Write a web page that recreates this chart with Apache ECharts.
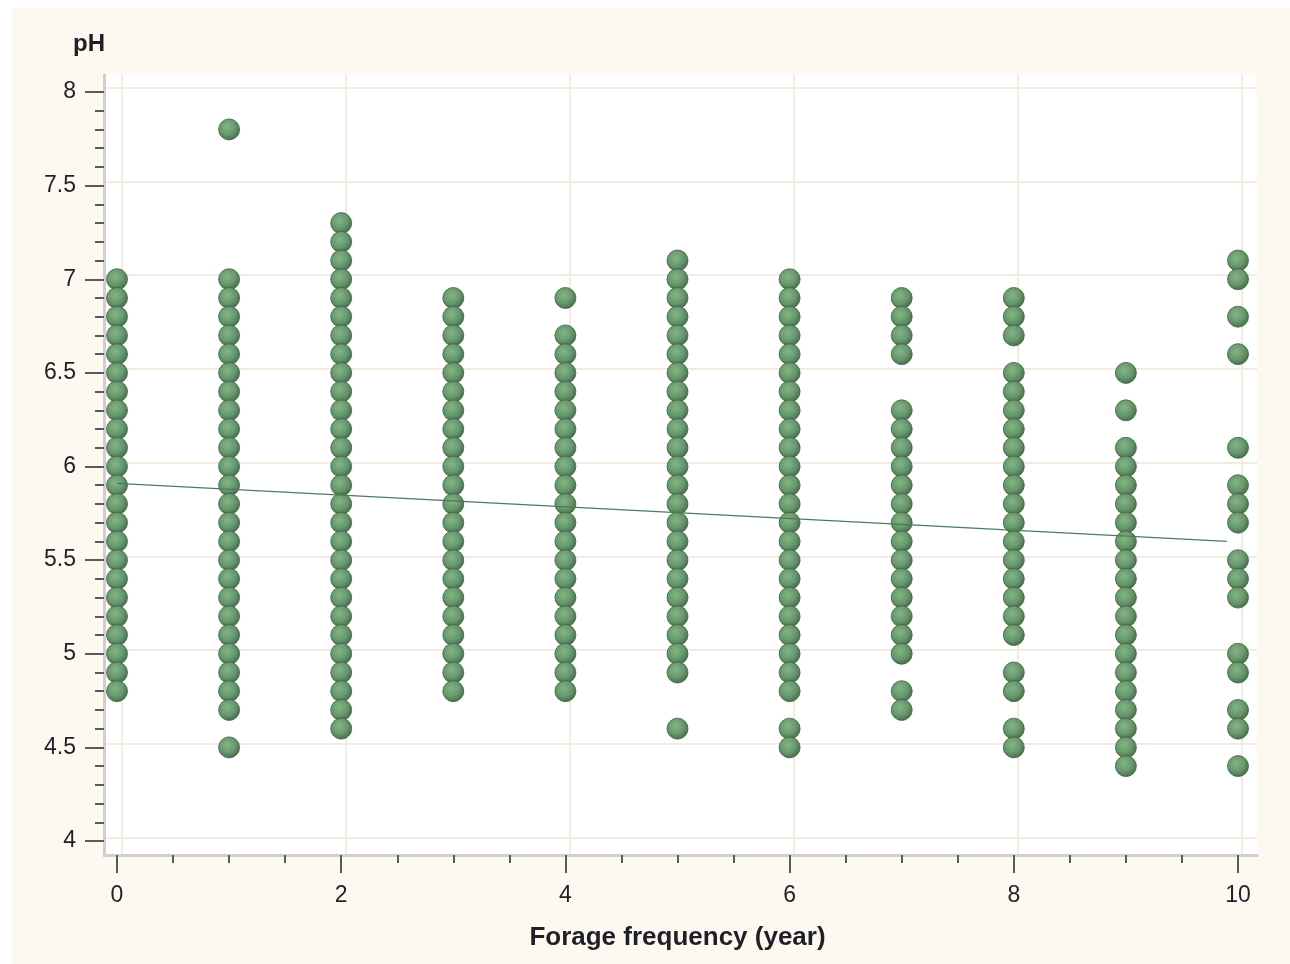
<!DOCTYPE html>
<html>
<head>
<meta charset="utf-8">
<script src="https://cdn.jsdelivr.net/npm/echarts@6/dist/echarts.min.js"></script>
<style>
  html, body { margin: 0; padding: 0; background: #ffffff; }
  #panel { position: absolute; left: 12px; top: 8px; width: 1278px; height: 956px; background: #fdf9f1; }
  #chart { position: absolute; left: 0; top: 0; width: 1290px; height: 964px; }
</style>
</head>
<body>
<div id="panel"></div>
<div id="chart"></div>
<script>
// Forage frequency (years) categories on the x axis
const years = [0, 1, 2, 3, 4, 5, 6, 7, 8, 9, 10];

// pH readings per forage frequency
const ph0  = [7.0, 6.9, 6.8, 6.7, 6.6, 6.5, 6.4, 6.3, 6.2, 6.1, 6.0, 5.9, 5.8, 5.7, 5.6, 5.5, 5.4, 5.3, 5.2, 5.1, 5.0, 4.9, 4.8];
const ph1  = [7.8, 7.0, 6.9, 6.8, 6.7, 6.6, 6.5, 6.4, 6.3, 6.2, 6.1, 6.0, 5.9, 5.8, 5.7, 5.6, 5.5, 5.4, 5.3, 5.2, 5.1, 5.0, 4.9, 4.8, 4.7, 4.5];
const ph2  = [7.3, 7.2, 7.1, 7.0, 6.9, 6.8, 6.7, 6.6, 6.5, 6.4, 6.3, 6.2, 6.1, 6.0, 5.9, 5.8, 5.7, 5.6, 5.5, 5.4, 5.3, 5.2, 5.1, 5.0, 4.9, 4.8, 4.7, 4.6];
const ph3  = [6.9, 6.8, 6.7, 6.6, 6.5, 6.4, 6.3, 6.2, 6.1, 6.0, 5.9, 5.8, 5.7, 5.6, 5.5, 5.4, 5.3, 5.2, 5.1, 5.0, 4.9, 4.8];
const ph4  = [6.9, 6.7, 6.6, 6.5, 6.4, 6.3, 6.2, 6.1, 6.0, 5.9, 5.8, 5.7, 5.6, 5.5, 5.4, 5.3, 5.2, 5.1, 5.0, 4.9, 4.8];
const ph5  = [7.1, 7.0, 6.9, 6.8, 6.7, 6.6, 6.5, 6.4, 6.3, 6.2, 6.1, 6.0, 5.9, 5.8, 5.7, 5.6, 5.5, 5.4, 5.3, 5.2, 5.1, 5.0, 4.9, 4.6];
const ph6  = [7.0, 6.9, 6.8, 6.7, 6.6, 6.5, 6.4, 6.3, 6.2, 6.1, 6.0, 5.9, 5.8, 5.7, 5.6, 5.5, 5.4, 5.3, 5.2, 5.1, 5.0, 4.9, 4.8, 4.6, 4.5];
const ph7  = [6.9, 6.8, 6.7, 6.6, 6.3, 6.2, 6.1, 6.0, 5.9, 5.8, 5.7, 5.6, 5.5, 5.4, 5.3, 5.2, 5.1, 5.0, 4.8, 4.7];
const ph8  = [6.9, 6.8, 6.7, 6.5, 6.4, 6.3, 6.2, 6.1, 6.0, 5.9, 5.8, 5.7, 5.6, 5.5, 5.4, 5.3, 5.2, 5.1, 4.9, 4.8, 4.6, 4.5];
const ph9  = [6.5, 6.3, 6.1, 6.0, 5.9, 5.8, 5.7, 5.6, 5.5, 5.4, 5.3, 5.2, 5.1, 5.0, 4.9, 4.8, 4.7, 4.6, 4.5, 4.4];
const ph10 = [7.1, 7.0, 6.8, 6.6, 6.1, 5.9, 5.8, 5.7, 5.5, 5.4, 5.3, 5.0, 4.9, 4.7, 4.6, 4.4];

// Fitted regression line end points
const fitX = [0, 9.9];
const fitY = [5.91, 5.60];

// Axis ticks
const yTicks = [4, 4.5, 5, 5.5, 6, 6.5, 7, 7.5, 8];
const xTicks = [0, 2, 4, 6, 8, 10];

const columns = [ph0, ph1, ph2, ph3, ph4, ph5, ph6, ph7, ph8, ph9, ph10];
const points = [];
columns.forEach((col, i) => col.forEach(v => points.push([years[i], v])));
const fitLine = fitX.map((x, i) => [x, fitY[i]]);

const FONT = '"Liberation Sans", Arial, sans-serif';
const TXT = '#1f1f28';
const TICK = '#5a5a5a';
const GRIDC = '#f1ecdd';
const FRAME = '#cfcfcf';

const chart = echarts.init(document.getElementById('chart'), null, { renderer: 'canvas' });
chart.setOption({
  backgroundColor: 'transparent',
  animation: false,
  title: {
    text: 'pH', left: 68, top: 27,
    textStyle: { fontFamily: FONT, fontSize: 24, fontWeight: 'bold', color: TXT }
  },
  grid: [
    { left: 104, right: 33, top: 75, bottom: 109, show: true, backgroundColor: '#ffffff', borderWidth: 0 },
    { left: 117, right: 52, top: 92, bottom: 123 }
  ],
  xAxis: [
    { gridIndex: 0, type: 'value', min: -0.156, max: 10.134, splitNumber: 5,
      axisLine: { show: true, onZero: false, lineStyle: { color: FRAME, width: 3 } },
      axisTick: { show: false }, axisLabel: { show: false },
      splitLine: { show: true, showMinLine: false, showMaxLine: false, lineStyle: { color: GRIDC, width: 2 } } },
    { gridIndex: 1, type: 'value', min: 0, max: 10, interval: 2, offset: 14,
      axisLine: { show: false, onZero: false },
      axisTick: { show: true, length: 18, lineStyle: { color: TICK, width: 2 } },
      minorTick: { show: true, splitNumber: 4, length: 8, lineStyle: { color: TICK, width: 2 } },
      axisLabel: { margin: 29, fontFamily: FONT, fontSize: 23, color: TXT,
        formatter: v => xTicks.includes(v) ? String(v) : '' },
      splitLine: { show: false },
      name: 'Forage frequency (year)', nameLocation: 'middle', nameGap: 70,
      nameTextStyle: { fontFamily: FONT, fontSize: 26, fontWeight: 'bold', color: TXT } }
  ],
  yAxis: [
    { gridIndex: 0, type: 'value', min: 3.907, max: 8.067, splitNumber: 8,
      axisLine: { show: true, onZero: false, lineStyle: { color: FRAME, width: 3 } },
      axisTick: { show: false }, axisLabel: { show: false },
      splitLine: { show: true, showMinLine: false, showMaxLine: false, lineStyle: { color: GRIDC, width: 2 } } },
    { gridIndex: 1, type: 'value', min: 4, max: 8, interval: 0.5, offset: 13,
      axisLine: { show: false, onZero: false },
      axisTick: { show: true, length: 19, lineStyle: { color: TICK, width: 2 } },
      minorTick: { show: true, splitNumber: 5, length: 9, lineStyle: { color: TICK, width: 2 } },
      axisLabel: { margin: 28, fontFamily: FONT, fontSize: 23, color: TXT,
        formatter: v => yTicks.includes(v) ? String(v) : '' },
      splitLine: { show: false } }
  ],
  series: [
    {
      type: 'scatter', xAxisIndex: 1, yAxisIndex: 1, data: points,
      symbol: 'circle', symbolSize: 21, z: 3,
      itemStyle: {
        color: { type: 'radial', x: 0.42, y: 0.38, r: 0.62,
          colorStops: [ { offset: 0, color: '#84b487' }, { offset: 0.6, color: '#67976c' }, { offset: 1, color: '#456f4b' } ] },
        borderColor: '#3e6243', borderWidth: 0.8, opacity: 1
      }
    },
    {
      type: 'line', xAxisIndex: 1, yAxisIndex: 1, data: fitLine,
      symbol: 'none', z: 4, silent: true,
      lineStyle: { color: '#4b7c55', width: 1.3 }
    }
  ]
});
</script>
</body>
</html>
